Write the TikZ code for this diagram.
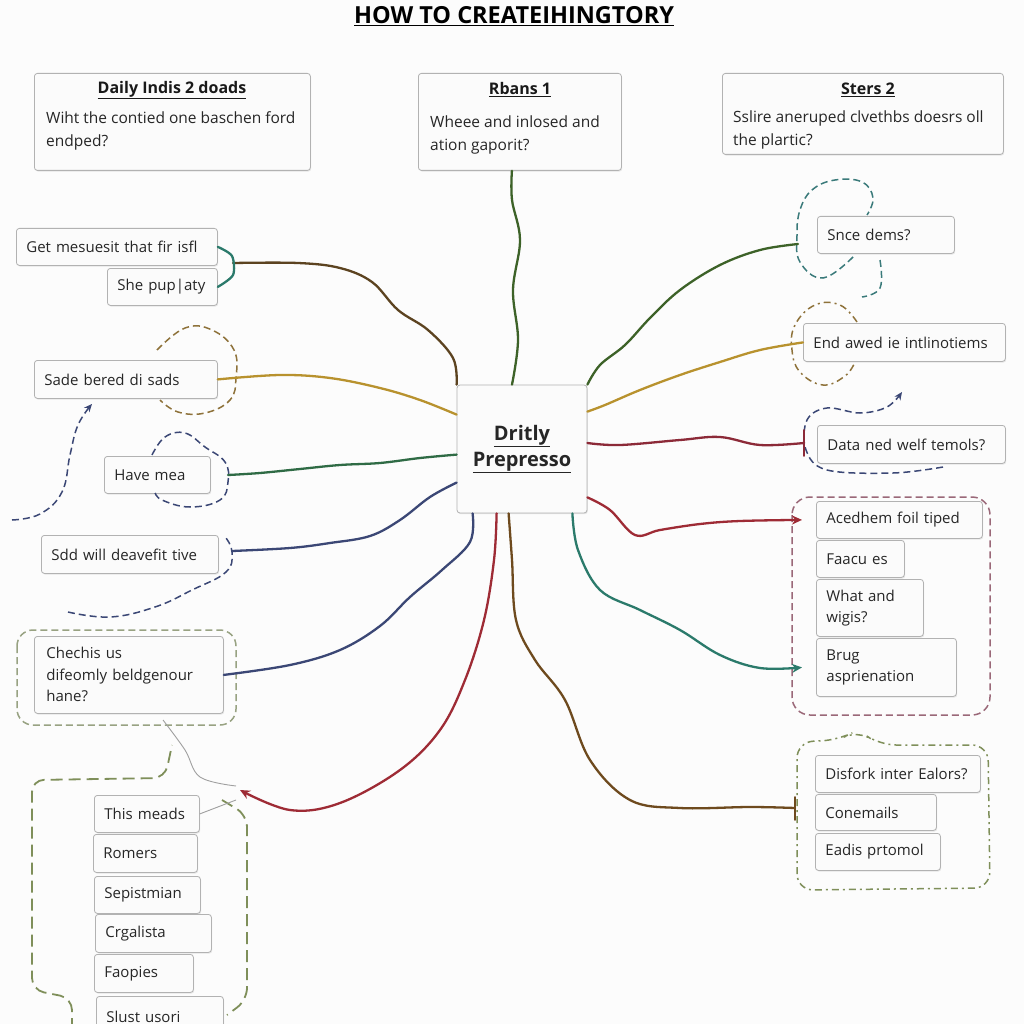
\documentclass[tikz,border=0pt]{standalone}
\usepackage{fontspec}
\setmainfont{Open Sans}
\usetikzlibrary{arrows.meta,shadows}

\definecolor{leafgreen}{HTML}{3D6228}
\definecolor{barkbrown}{HTML}{5C4320}
\definecolor{mustard}{HTML}{B8922E}
\definecolor{pine}{HTML}{2F6B45}
\definecolor{navy}{HTML}{3B4775}
\definecolor{brick}{HTML}{9E2B35}
\definecolor{wine}{HTML}{8C2A38}
\definecolor{sea}{HTML}{2B7A6B}
\definecolor{umber}{HTML}{6E4A1E}
\definecolor{rose}{HTML}{9A6878}
\definecolor{olive}{HTML}{7F8F5A}
\definecolor{sage}{HTML}{98A282}
\definecolor{teal}{HTML}{3A7A7A}
\definecolor{ochre}{HTML}{8E723A}

\tikzset{
  box/.style={draw=gray!60, fill=white!97!gray, rounded corners=3pt, line width=0.8pt,
    anchor=north west, align=left, inner xsep=10pt, inner ysep=2pt,
    font=\fontsize{15}{21.5}\selectfont, text=black!85,
    drop shadow={opacity=0.18, shadow xshift=0.8pt, shadow yshift=-1.2pt}},
  boxtitle/.style={font=\bfseries\fontsize{16}{19}\selectfont, text=black!90, inner sep=0pt},
  boxbody/.style={anchor=base west, align=left, inner sep=0pt,
    font=\fontsize{15.5}{23}\selectfont, text=black!85},
  conn/.style={line width=2.3pt, line cap=round, line join=round},
  grp/.style={line width=1.5pt, dash pattern=on 7pt off 4pt},
  grpdot/.style={line width=1.5pt, dash pattern=on 7pt off 4pt on 2pt off 4pt},
}

\begin{document}
\begin{tikzpicture}[x=1pt,y=-1pt]

  \fill[white!98!gray] (0,0) rectangle (1024,1024);
  \useasboundingbox (0,0) rectangle (1024,1024);

  % title
  \node[font=\bfseries\fontsize{23.5}{28}\selectfont] (title) at (514,16) {\underline{HOW TO CREATEIHINGTORY}};

  % top boxes
  \node[box, minimum width=276pt, minimum height=97pt, inner sep=0pt] (top1) at (34,73) {};
  \node[boxtitle] (top1t) at (172,90) {\underline{Daily Indis 2 doads}};
  \node[boxbody] (top1b) at (46,147) {Wiht the contied one baschen ford\\endped?};

  \node[box, minimum width=203pt, minimum height=97pt, inner sep=0pt] (top2) at (418,73) {};
  \node[boxtitle] (top2t) at (520,90) {\underline{Rbans 1}};
  \node[boxbody] (top2b) at (430,151) {Wheee and inlosed and\\ation gaporit?};

  \node[box, minimum width=281pt, minimum height=81pt, inner sep=0pt] (top3) at (722,73) {};
  \node[boxtitle] (top3t) at (868,90) {\underline{Sters 2}};
  \node[boxbody] (top3b) at (733,146) {Sslire aneruped clvethbs doesrs oll\\the plartic?};

  % hub
  \node[box, anchor=center, minimum width=130pt, minimum height=128pt, align=center,
    font=\bfseries\fontsize{20}{26}\selectfont] (hub) at (522,449) {\underline{Dritly}\\\underline{Prepresso}};

  % left side
  \node[box, text width=181pt, minimum height=37pt] (get) at (16,228) {Get mesuesit that fir isfl};
  \node[box, text width=90pt, minimum height=37pt] (she) at (107,268) {She pup|aty};
  \node[box, text width=163pt, minimum height=38pt] (sade) at (34,360) {Sade bered di sads};
  \node[box, text width=86pt, minimum height=37pt] (have) at (104,456) {Have mea};
  \node[box, text width=157pt, minimum height=38pt] (sdd) at (41,535) {Sdd will deavefit tive};
  \node[box, text width=165pt, minimum height=77pt, inner xsep=12pt] (chechis) at (34,636) {Chechis us\\difeomly beldgenour\\hane?};

  \node[box, text width=85pt, minimum height=37pt] (this) at (94,795) {This meads};
  \node[box, text width=84pt, minimum height=38pt] (romers) at (93,834) {Romers};
  \node[box, text width=86pt, minimum height=37pt] (sepist) at (94,876) {Sepistmian};
  \node[box, text width=96pt, minimum height=38pt] (crgal) at (95,914) {Crgalista};
  \node[box, text width=79pt, minimum height=38pt] (faop) at (94,954) {Faopies};
  \node[box, text width=107pt, minimum height=40pt] (slust) at (96,996) {Slust usori};

  % right side
  \node[box, text width=117pt, minimum height=37pt] (snce) at (817,216) {Snce dems?};
  \node[box, text width=182pt, minimum height=38pt] (endaw) at (803,323) {End awed ie intlinotiems};
  \node[box, text width=168pt, minimum height=38pt] (data) at (817,425) {Data ned welf temols?};
  \node[box, text width=146pt, minimum height=37pt] (aced) at (816,501) {Acedhem foil tiped};
  \node[box, text width=68pt, minimum height=37pt] (faacu) at (816,540) {Faacu es};
  \node[box, text width=87pt, minimum height=57pt] (what) at (816,579) {What and\\wigis?};
  \node[box, text width=120pt, minimum height=58pt] (brug) at (816,638) {Brug\\asprienation};
  \node[box, text width=145pt, minimum height=37pt] (disf) at (815,755) {Disfork inter Ealors?};
  \node[box, text width=101pt, minimum height=36pt] (conem) at (815,794) {Conemails};
  \node[box, text width=105pt, minimum height=37pt] (eadis) at (815,833) {Eadis prtomol};

  % dashed groups
  \draw[grp, rose, rounded corners=18pt] (792,497) rectangle (990,715);
  \draw[grpdot, olive, rounded corners=16pt] (797,890) -- (797,742) -- (838,740) -- (858,730) -- (880,745) -- (988,745) -- (990,888) -- cycle;
  \draw[grp, sage, rounded corners=16pt] (17,630) rectangle (236,725);
  \draw[grp, olive, line width=1.8pt, dash pattern=on 12pt off 6pt, rounded corners=12pt]
    (72,1030) -- (72,998) -- (32,990) -- (32,780) -- (165,778) -- (172,745);
  \draw[grp, olive, line width=1.8pt, dash pattern=on 12pt off 6pt, rounded corners=12pt]
    (222,800) -- (247,815) -- (247,1000) -- (227,1015);

  % blobs
  \draw[grp, ochre] plot[smooth, tension=0.7] coordinates {(157,350) (185,328) (212,330) (234,350) (236,378) (230,400) (205,413) (178,412) (160,400)};
  \draw[grp, navy] plot[smooth, tension=0.7] coordinates {(152,455) (165,437) (185,433) (205,447) (225,462) (228,482) (220,500) (190,507) (162,500) (155,492)};
  \draw[grp, navy, -{Stealth[length=8pt,width=7pt]}] plot[smooth, tension=0.7] coordinates {(12,520) (40,514) (62,492) (70,455) (78,425) (92,404)};
  \draw[grp, navy] plot[smooth, tension=0.7] coordinates {(68,612) (110,617) (155,607) (192,590) (226,572) (232,552) (226,538)};
  \draw[grp, teal] plot[smooth, tension=0.7] coordinates {(853,257) (823,278) (800,262) (797,235) (800,210) (812,190) (835,180) (862,182) (873,198) (867,215)};
  \draw[grp, teal] plot[smooth, tension=0.7] coordinates {(880,260) (880,288) (862,297)};
  \draw[grpdot, ochre] plot[smooth, tension=0.7] coordinates {(857,322) (840,305) (815,305) (795,325) (792,350) (800,372) (823,385) (845,376) (855,362)};
  \draw[grp, navy, -{Stealth[length=8pt,width=7pt]}] plot[smooth, tension=0.6] coordinates {(943,467) (893,473) (827,470) (806,450) (807,420) (827,408) (860,413) (887,407) (902,392)};

  % bubble strokes
  \draw[gray!75, line width=0.9pt] plot[smooth, tension=0.6] coordinates {(163,720) (185,750) (200,777) (236,786)};
  \draw[gray!75, line width=0.9pt] (this.east) -- (236,800);

  % branches
  \draw[conn, leafgreen] plot[smooth, tension=0.6] coordinates {([xshift=-10pt]hub.north) (518,340) (513,290) (520,240) (512,200) ([xshift=-8pt]top2.south)};
  \draw[conn, barkbrown] plot[smooth, tension=0.6] coordinates {(hub.north west) (453,358) (428,330) (398,310) (372,282) (340,268) (298,263) (233,263)};
  \draw[conn, sea] plot[smooth, tension=0.5] coordinates {(get.east) (232,256) (233,275) (she.east)};
  \draw[conn, mustard] plot[smooth, tension=0.6] coordinates {([yshift=-30pt]hub.north west) (420,400) (380,388) (330,378) (280,375) (sade.east)};
  \draw[conn, pine] plot[smooth, tension=0.6] coordinates {([yshift=-70pt]hub.north west) (420,458) (380,463) (340,465) (300,469) (260,473) (228,475)};
  \draw[conn, navy] plot[smooth, tension=0.6] coordinates {([yshift=-98pt]hub.north west) (430,497) (400,520) (370,536) (330,543) (290,548) (232,551)};
  \draw[conn, navy] plot[smooth, tension=0.6] coordinates {([xshift=16pt]hub.south west) (470,542) (442,570) (410,597) (380,626) (340,650) (290,665) (chechis.east)};
  \draw[conn, brick, -{Stealth[length=10pt,width=9pt]}] plot[smooth, tension=0.6] coordinates {([xshift=40pt]hub.south west) (494,560) (484,620) (465,680) (440,730) (400,770) (340,803) (290,810) (240,790)};
  \draw[conn, umber] plot[smooth, tension=0.6] coordinates {([xshift=52pt]hub.south west) (512,560) (516,620) (535,660) (565,700) (590,760) (630,800) (680,808) (750,807) (795,808)};
  \draw[conn, umber, line width=1.6pt] (795,797) -- (795,820);
  \draw[conn, sea, -{Stealth[length=10pt,width=9pt]}] plot[smooth, tension=0.6] coordinates {([xshift=-15pt]hub.south east) (578,550) (600,590) (640,610) (680,630) (720,655) (760,668) ([xshift=-14pt]brug.west)};
  \draw[conn, brick, -{Stealth[length=10pt,width=9pt]}] plot[smooth, tension=0.6] coordinates {([yshift=16pt]hub.south east) (610,510) (635,535) (660,530) (700,524) (740,521) ([xshift=-14pt]aced.west)};
  \draw[conn, wine] plot[smooth, tension=0.6] coordinates {([yshift=6pt]hub.east) (620,445) (680,440) (720,437) (760,445) (804,443)};
  \draw[conn, wine, line width=1.6pt] (804,430) -- (804,456);
  \draw[conn, mustard] plot[smooth, tension=0.6] coordinates {([yshift=-27pt]hub.north east) (605,405) (640,390) (680,375) (720,362) (760,350) (endaw.west)};
  \draw[conn, leafgreen] plot[smooth, tension=0.6] coordinates {(hub.north east) (600,365) (625,345) (650,318) (680,290) (720,265) (760,250) (798,244)};
\end{tikzpicture}
\end{document}
